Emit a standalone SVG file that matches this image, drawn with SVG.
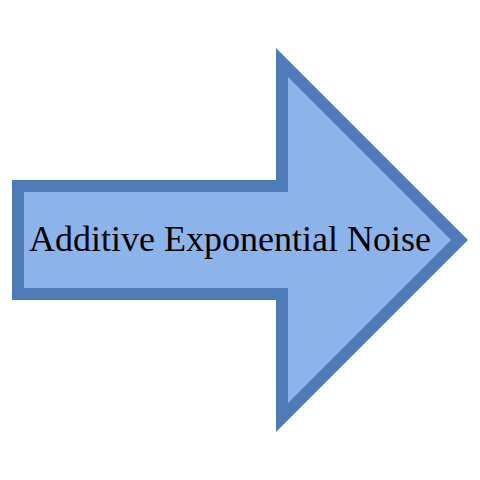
<svg xmlns="http://www.w3.org/2000/svg" width="480" height="480" viewBox="0 0 480 480">
<style>
.arrow{fill:#8db4ea;stroke:#4f7bb9;stroke-width:12;stroke-linejoin:miter;stroke-miterlimit:10}
.lbl{font-family:"Liberation Serif","Times New Roman",serif;font-size:36px;fill:#000;text-anchor:middle}
</style>
<rect width="480" height="480" fill="#fff"/>
<g id="arrow">
<polygon class="arrow" points="18,186 282,186 282,62.5 459.5,240 282,417.5 282,294 18,294"/>
<text class="lbl" x="230" y="251">Additive Exponential Noise</text>
</g>
</svg>
